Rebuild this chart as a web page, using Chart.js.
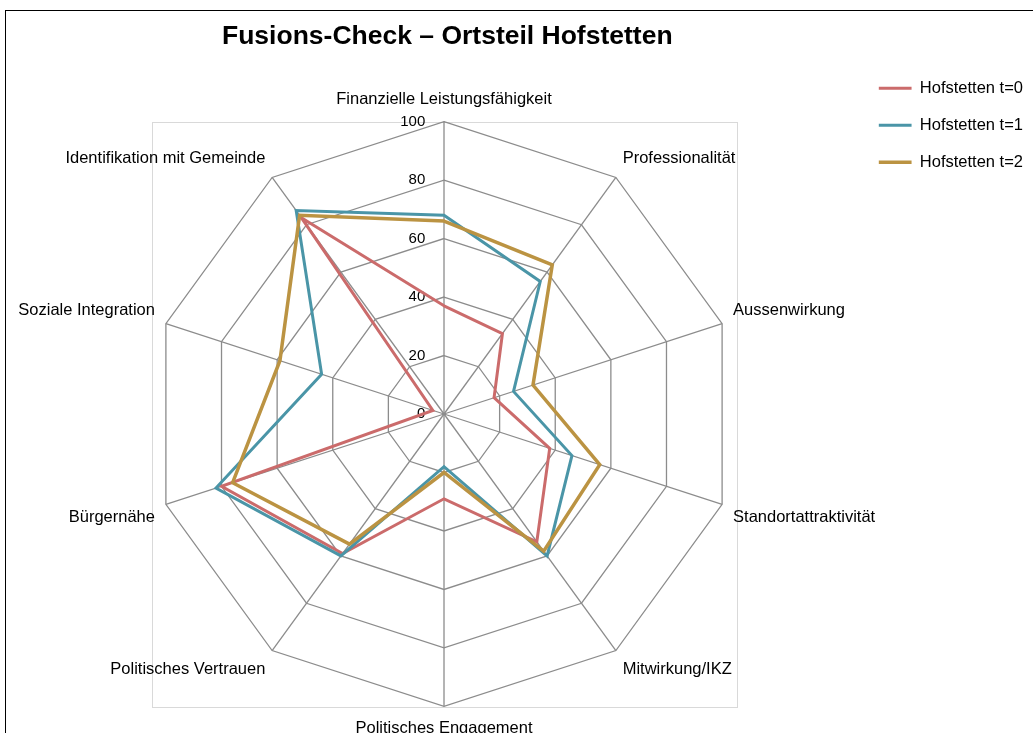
<!DOCTYPE html>
<html>
<head>
<meta charset="utf-8">
<script src="https://cdn.jsdelivr.net/npm/chart.js@4/dist/chart.umd.min.js"></script>
<style>
  html, body { margin: 0; padding: 0; background: #fff; overflow: hidden; }
  #wrap { position: absolute; left: 0; top: 0; width: 1033px; height: 746px; }
</style>
</head>
<body>
<div id="wrap"><canvas id="chart" width="1033" height="746"></canvas></div>
<script>
const categories = [
    'Finanzielle Leistungsfähigkeit',
    'Professionalität',
    'Aussenwirkung',
    'Standortattraktivität',
    'Mitwirkung/IKZ',
    'Politisches Engagement',
    'Politisches Vertrauen',
    'Bürgernähe',
    'Soziale Integration',
    'Identifikation mit Gemeinde'
];
const seriesNames = ['Hofstetten t=0', 'Hofstetten t=1', 'Hofstetten t=2'];
const valuesT0 = [37, 34, 18, 38, 54, 29, 59, 80, 4, 83];
const valuesT1 = [68, 56, 25, 46, 60, 18, 60, 82, 44, 86];
const valuesT2 = [66, 63, 32, 56, 58, 20, 55, 76, 59, 84];
const tickLabels = ['0', '20', '40', '60', '80', '100'];

Chart.defaults.font.family = "'Liberation Sans', Arial, sans-serif";
Chart.defaults.color = '#000';

// tick labels sit left of the vertical axis, like Excel does
const tickPad = [11, 13, 13, 13, 13, 15];

// light grey plot area box + black outer chart frame
const framePlugin = {
    id: 'frame',
    beforeDraw(chart) {
        const ctx = chart.ctx;
        const r = chart.scales.r;
        ctx.save();
        ctx.strokeStyle = '#d9d9d9';
        ctx.lineWidth = 1;
        ctx.strokeRect(Math.round(r.xCenter - r.drawingArea) + 0.5, Math.round(r.yCenter - r.drawingArea) + 0.5,
            Math.round(2 * r.drawingArea), Math.round(2 * r.drawingArea));
        ctx.strokeStyle = '#000';
        ctx.strokeRect(5.5, 10.5, chart.width, chart.height);
        ctx.restore();
    }
};

const ctx = document.getElementById('chart').getContext('2d');
new Chart(ctx, {
    type: 'radar',
    data: {
        labels: categories,
        datasets: [{
            label: seriesNames[0],
            data: valuesT0,
            borderColor: 'rgb(203, 107, 107)',
            backgroundColor: 'rgb(203, 107, 107)',
            borderWidth: 3,
            order: 2
        }, {
            label: seriesNames[1],
            data: valuesT1,
            borderColor: 'rgb(74, 149, 167)',
            backgroundColor: 'rgb(74, 149, 167)',
            borderWidth: 3,
            order: 1
        }, {
            label: seriesNames[2],
            data: valuesT2,
            borderColor: 'rgb(187, 147, 66)',
            backgroundColor: 'rgb(187, 147, 66)',
            borderWidth: 3.5,
            order: 0
        }]
    },
    options: {
        responsive: false,
        animation: false,
        elements: {
            line: { fill: false, tension: 0 },
            point: { radius: 0, hoverRadius: 0 }
        },
        layout: {
            padding: { left: 16, right: 0, top: 0, bottom: 0 }
        },
        scales: {
            r: {
                min: -0.001,
                max: 100,
                ticks: {
                    stepSize: 20,
                    showLabelBackdrop: false,
                    backdropPadding: 0,
                    color: '#000',
                    font: { size: 15 },
                    callback: (value, index) => tickLabels[index] + ' '.repeat(tickPad[index])
                },
                grid: { color: '#8c8c8c', lineWidth: 1.3 },
                angleLines: { color: '#8c8c8c', lineWidth: 1.3 },
                pointLabels: {
                    color: '#000',
                    font: { size: 16.5 },
                    padding: c => [5, 4, 4, 4, 4, 5, 4, 4, 4, 4][c.index]
                }
            }
        },
        plugins: {
            title: {
                display: true,
                fullSize: false,
                text: 'Fusions-Check – Ortsteil Hofstetten',
                color: '#000',
                font: { size: 26.5, weight: 'bold' },
                padding: { top: 21.1, bottom: 29.6 }
            },
            legend: {
                position: 'right',
                align: 'start',
                title: {
                    display: true,
                    text: '',
                    font: { size: 15 },
                    padding: { top: 62, bottom: 0 }
                },
                labels: {
                    usePointStyle: true,
                    pointStyle: 'line',
                    pointStyleWidth: 33,
                    padding: 0,
                    color: '#000',
                    font: { size: 16.5, lineHeight: 37 / 16.5 },
                    sort: (a, b) => a.datasetIndex - b.datasetIndex,
                    generateLabels: chart => Chart.defaults.plugins.legend.labels.generateLabels(chart)
                        .map(item => Object.assign(item, { text: [item.text] }))
                }
            },
            tooltip: { enabled: false }
        }
    },
    plugins: [framePlugin]
});
</script>
</body>
</html>
